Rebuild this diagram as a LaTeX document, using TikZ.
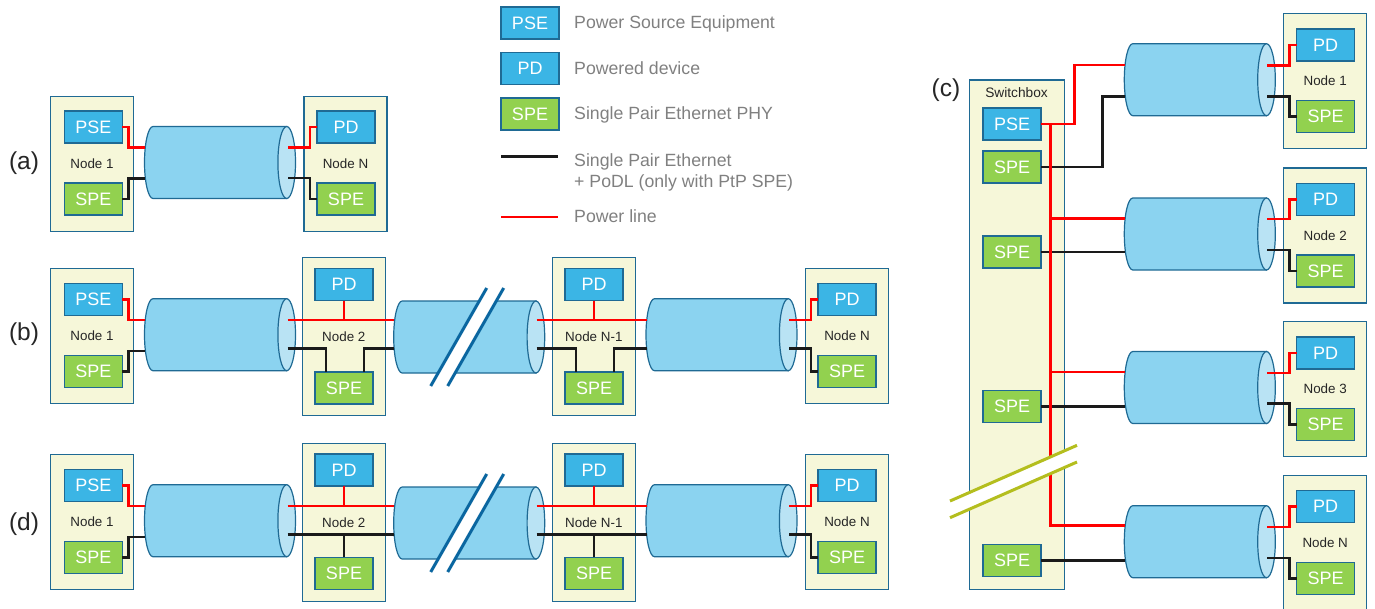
\documentclass[tikz,border=0pt]{standalone}
\usepackage{fontspec}
\setmainfont{Liberation Sans}
\definecolor{edgeblue}{HTML}{1F6A94}
\definecolor{cream}{HTML}{F6F7D9}
\definecolor{psefill}{HTML}{3BB5E5}
\definecolor{spefill}{HTML}{92D14F}
\definecolor{cylfill}{HTML}{8BD3F0}
\definecolor{capfill}{HTML}{B9E3F4}
\definecolor{slashblue}{HTML}{0A66A0}
\definecolor{slasholive}{HTML}{B4BE1E}
\definecolor{legendgrey}{HTML}{808080}
\definecolor{wirered}{HTML}{FF0000}
\definecolor{wireblack}{HTML}{1A1A1A}
\tikzset{
  basebox/.style={draw=edgeblue,line width=1.2pt,inner sep=0pt,outer sep=0pt,align=center},
  nodebox/.style={basebox,fill=cream,text=black!85,font=\fontsize{13.4}{15}\selectfont},
  psebox/.style={basebox,fill=psefill,text=white,font=\fontsize{18}{20}\selectfont,minimum width=58pt,minimum height=32pt},
  spebox/.style={basebox,fill=spefill,text=white,font=\fontsize{18}{20}\selectfont,minimum width=58pt,minimum height=32pt},
  legendtext/.style={text=legendgrey,font=\fontsize{17.7}{20}\selectfont,anchor=base west,inner sep=0pt,align=left},
  panellabel/.style={text=black!85,font=\fontsize{24.5}{26}\selectfont,inner sep=0pt},
  boxtitle/.style={text=black!85,font=\fontsize{13.7}{15}\selectfont,inner sep=0pt},
  cylbody/.style={draw=edgeblue,line width=1.2pt,fill=cylfill},
  cylcap/.style={draw=edgeblue,line width=1.2pt,fill=capfill},
  pw/.style={draw=wirered,line width=2.5pt,miter limit=10},
  sw/.style={draw=wireblack,line width=2.5pt,miter limit=10},
  bslash/.style={draw=slashblue,line width=3pt},
  oslash/.style={draw=slasholive,line width=3pt},
}
% #1 name #2 left #3 top #4 label
\newcommand{\Nbox}[4]{\node[nodebox,minimum width=83pt,minimum height=135pt] (#1) at (#2+41.5,#3+67.5) {#4};}
\newcommand{\Mbox}[4]{\node[nodebox,minimum width=83pt,minimum height=158pt] (#1) at (#2+41.5,#3+79) {#4};}
\newcommand{\Pbox}[4]{\node[psebox] (#1) at (#2+29,#3+16) {#4};}
\newcommand{\Sbox}[3]{\node[spebox] (#1) at (#2+29,#3+16) {SPE};}
% #1 name #2 left #3 top #4 red-left y #5 black-left y #6 red-right y #7 black-right y
\newcommand{\Cyl}[7]{%
  \node[minimum width=151pt,minimum height=72pt,inner sep=0pt,outer sep=0pt] (#1) at (#2+75.5,#3+36) {};
  \path[cylbody] (#2+8.5,#3) -- (#2+142.2,#3) -- (#2+142.2,#3+72) -- (#2+8.5,#3+72)
    arc[start angle=270,end angle=90,x radius=8.5pt,y radius=36pt] -- cycle;
  \path[cylcap] (#2+142.2,#3+36) ellipse[x radius=8.8pt,y radius=36pt];
  \coordinate (#1lr) at (#2+0.6,#4);
  \coordinate (#1lb) at (#2+0.6,#5);
  \coordinate (#1rr) at (#2+143,#6);
  \coordinate (#1rb) at (#2+143,#7);
}
\begin{document}
\begin{tikzpicture}[x=1pt,y=-1pt]
\useasboundingbox (0,0) rectangle (1375,608);
% legend
\Pbox{lgpse}{501}{7}{PSE}
\Pbox{lgpd}{501}{52.3}{PD}
\Sbox{lgspe}{501}{98}
\node[legendtext] (lt1) at (574,28.7) {Power Source Equipment};
\node[legendtext] (lt2) at (574,74) {Powered device};
\node[legendtext] (lt3) at (574,119.7) {Single Pair Ethernet PHY};
\node[legendtext] (lt4) at (574,166) {Single Pair Ethernet};
\node[legendtext] (lt5) at (574,187) {+ PoDL (only with PtP SPE)};
\node[legendtext] (lt6) at (574,222.7) {Power line};
\coordinate (lgb1) at (501,156.3); \coordinate (lgb2) at (557.5,156.3);
\coordinate (lgr1) at (501,217); \coordinate (lgr2) at (557.5,217);
\draw[sw] (lgb1) -- (lgb2);
\draw[pw] (lgr1) -- (lgr2);
% panel labels
\node[panellabel] (la) at (24,163.5) {(a)};
\node[panellabel] (lb) at (24,334) {(b)};
\node[panellabel] (ld) at (24,524.5) {(d)};
\node[panellabel] (lc) at (946,90.5) {(c)};
% ---------- (a)
\Nbox{an1}{50.5}{96.5}{Node 1}
\Pbox{apse}{64.3}{111}{PSE}
\Sbox{aspe}{64.3}{183}
\Nbox{ann}{304}{96.5}{Node N}
\Pbox{apd}{317}{111}{PD}
\Sbox{aspn}{317}{183}
\Cyl{ac}{144.5}{126.5}{147.5}{178.3}{147.5}{178}
\draw[pw] (apse.east) -- ++(6,0) |- (aclr);
\draw[sw] (aspe.east) -- ++(6,0) |- (aclb);
\draw[pw] (apd.west) -- ++(-7,0) |- (acrr);
\draw[sw] (aspn.west) -- ++(-7,0) |- (acrb);
% ---------- (b)
\Nbox{bn1}{50.5}{268.3}{Node 1}
\Pbox{bpse}{64.3}{283.7}{PSE}
\Sbox{bspe}{64.3}{355.3}
\Mbox{bn2}{302.3}{257.5}{Node 2}
\Pbox{bpd2}{315}{268.5}{PD}
\Sbox{bsp2}{315}{372}
\Mbox{bnm}{552.3}{257.5}{Node N-1}
\Pbox{bpdm}{565}{268.5}{PD}
\Sbox{bspm}{565}{372}
\Nbox{bnn}{805.5}{268.3}{Node N}
\Pbox{bpdn}{818}{283.7}{PD}
\Sbox{bspn}{818}{355.3}
\Cyl{bc1}{144.5}{298.7}{320}{351}{320}{348.7}
\Cyl{bc2}{393.7}{301}{320}{348.7}{320}{348.7}
\Cyl{bc3}{646}{298.7}{320}{348.7}{320}{348.7}
\draw[pw] (bpse.east) -- ++(6,0) |- (bc1lr);
\draw[sw] (bspe.east) -- ++(6,0) |- (bc1lb);
\draw[pw] (bc1rr) -- (bc2lr);
\draw[pw] (bpd2.south) -- (bpd2.south |- bc2lr);
\draw[sw] (bc1rb) -| ([xshift=-18pt]bsp2.north);
\draw[sw] ([xshift=20pt]bsp2.north) |- (bc2lb);
\draw[pw] (bc2rr) -- (bc3lr);
\draw[pw] (bpdm.south) -- (bpdm.south |- bc3lr);
\draw[sw] (bc2rb) -| ([xshift=-18pt]bspm.north);
\draw[sw] ([xshift=20pt]bspm.north) |- (bc3lb);
\draw[pw] (bpdn.west) -- ++(-7,0) |- (bc3rr);
\draw[sw] (bspn.west) -- ++(-7,0) |- (bc3rb);
% break (b)
\coordinate (bs1a) at (486.7,288); \coordinate (bs1b) at (430.7,386);
\coordinate (bs2a) at (503.7,288); \coordinate (bs2b) at (447.7,386);
\fill[white] (bs1a) -- (bs2a) -- (bs2b) -- (bs1b) -- cycle;
\draw[bslash] (bs1a) -- (bs1b);
\draw[bslash] (bs2a) -- (bs2b);
% ---------- (d)
\Nbox{dn1}{50.5}{454.3}{Node 1}
\Pbox{dpse}{64.3}{469.7}{PSE}
\Sbox{dspe}{64.3}{541.3}
\Mbox{dn2}{302.3}{443.3}{Node 2}
\Pbox{dpd2}{315}{454}{PD}
\Sbox{dsp2}{315}{557.3}
\Mbox{dnm}{552.3}{443.3}{Node N-1}
\Pbox{dpdm}{565}{454}{PD}
\Sbox{dspm}{565}{557.3}
\Nbox{dnn}{805.5}{454.3}{Node N}
\Pbox{dpdn}{818}{469.7}{PD}
\Sbox{dspn}{818}{541.3}
\Cyl{dc1}{144.5}{484.7}{506}{537}{506}{534.7}
\Cyl{dc2}{393.7}{487}{506}{534.7}{506}{534.7}
\Cyl{dc3}{646}{484.7}{506}{534.7}{506}{534.7}
\draw[pw] (dpse.east) -- ++(6,0) |- (dc1lr);
\draw[sw] (dspe.east) -- ++(6,0) |- (dc1lb);
\draw[pw] (dc1rr) -- (dc2lr);
\draw[pw] (dpd2.south) -- (dpd2.south |- dc2lr);
\draw[sw] (dc1rb) -- (dc2lb);
\draw[sw] (dsp2.north) -- (dsp2.north |- dc2lb);
\draw[pw] (dc2rr) -- (dc3lr);
\draw[pw] (dpdm.south) -- (dpdm.south |- dc3lr);
\draw[sw] (dc2rb) -- (dc3lb);
\draw[sw] (dspm.north) -- (dspm.north |- dc3lb);
\draw[pw] (dpdn.west) -- ++(-7,0) |- (dc3rr);
\draw[sw] (dspn.west) -- ++(-7,0) |- (dc3rb);
% break (d)
\coordinate (ds1a) at (486.7,474); \coordinate (ds1b) at (430.7,572);
\coordinate (ds2a) at (503.7,474); \coordinate (ds2b) at (447.7,572);
\fill[white] (ds1a) -- (ds2a) -- (ds2b) -- (ds1b) -- cycle;
\draw[bslash] (ds1a) -- (ds1b);
\draw[bslash] (ds2a) -- (ds2b);
% ---------- (c)
\node[nodebox,minimum width=94.6pt,minimum height=509.3pt] (sbox) at (1017,334.7) {};
\node[boxtitle] (sbt) at (1016.5,93) {Switchbox};
\Pbox{cpse}{983}{108}{PSE}
\Sbox{csp1}{983}{151}
\Sbox{csp2}{983}{236}
\Sbox{csp3}{983}{390.3}
\Sbox{csp4}{983}{544.3}
\Nbox{cn1}{1283.7}{13.7}{Node 1}
\Pbox{cpd1}{1296.5}{29}{PD}
\Sbox{csr1}{1296.5}{100.7}
\Nbox{cn2}{1283.7}{168}{Node 2}
\Pbox{cpd2}{1296.5}{183.3}{PD}
\Sbox{csr2}{1296.5}{255}
\Nbox{cn3}{1283.7}{321.5}{Node 3}
\Pbox{cpd3}{1296.5}{337}{PD}
\Sbox{csr3}{1296.5}{408.3}
\Nbox{cnn}{1283.7}{475.7}{Node N}
\Pbox{cpdn}{1296.5}{490.7}{PD}
\Sbox{csrn}{1296.5}{562.3}
\Cyl{cc1}{1124.3}{43.7}{65}{96.3}{65.3}{96.3}
\Cyl{cc2}{1124.3}{198}{218.3}{252}{219}{250}
\Cyl{cc3}{1124.3}{351.5}{372}{406.3}{373}{403.7}
\Cyl{cc4}{1124.3}{505.7}{525.7}{560.3}{527}{558}
\coordinate (ctap1) at (1050.7,124);
\coordinate (ctap2) at (1050.7,218.3);
\coordinate (ctap3) at (1050.7,372);
\draw[sw] (csp1.east) -- ++(61.5,0) |- (cc1lb);
\draw[sw] (csp2.east) -- (cc2lb);
\draw[sw] (csp3.east) -- (cc3lb);
\draw[sw] (csp4.east) -- (cc4lb);
\draw[pw] (cpse.east) -- ++(33.3,0) |- (cc1lr);
\draw[pw] (ctap1) |- (cc4lr);
\draw[pw] (ctap2) -- (cc2lr);
\draw[pw] (ctap3) -- (cc3lr);
\draw[pw] (cpd1.west) -- ++(-7,0) |- (cc1rr);
\draw[sw] (csr1.west) -- ++(-7,0) |- (cc1rb);
\draw[pw] (cpd2.west) -- ++(-7,0) |- (cc2rr);
\draw[sw] (csr2.west) -- ++(-7,0) |- (cc2rb);
\draw[pw] (cpd3.west) -- ++(-7,0) |- (cc3rr);
\draw[sw] (csr3.west) -- ++(-7,0) |- (cc3rb);
\draw[pw] (cpdn.west) -- ++(-7,0) |- (cc4rr);
\draw[sw] (csrn.west) -- ++(-7,0) |- (cc4rb);
% break (c)
\coordinate (cs1a) at (950,501); \coordinate (cs1b) at (1077,445.3);
\coordinate (cs2a) at (950,517.7); \coordinate (cs2b) at (1077,462);
\fill[white] (cs1a) -- (cs1b) -- (cs2b) -- (cs2a) -- cycle;
\draw[oslash] (cs1a) -- (cs1b);
\draw[oslash] (cs2a) -- (cs2b);
\end{tikzpicture}
\end{document}
